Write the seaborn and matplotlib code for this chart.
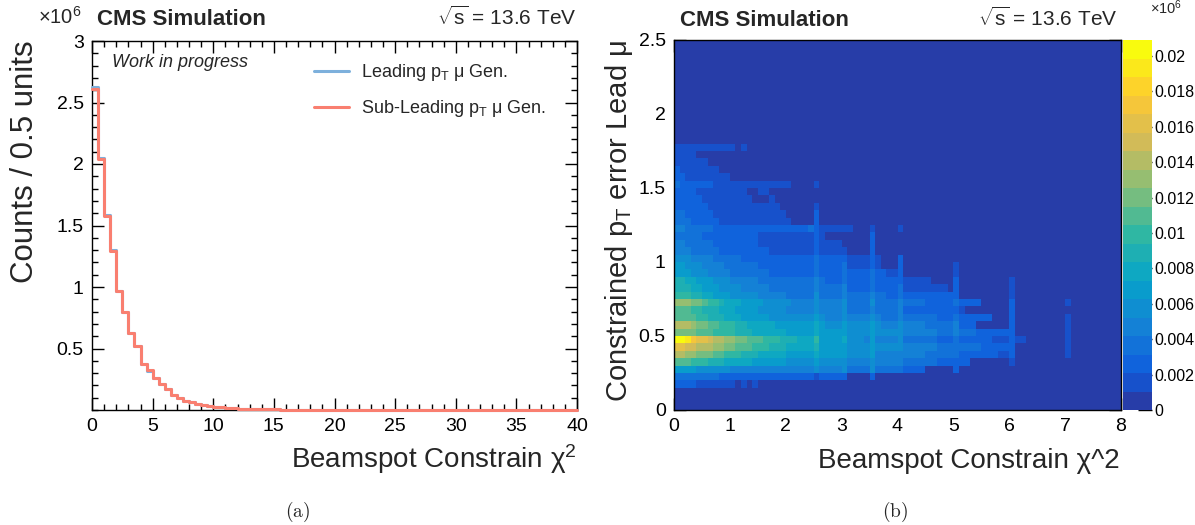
import numpy as np
import pandas as pd
import matplotlib
matplotlib.use("Agg")
import matplotlib.pyplot as plt
from matplotlib.colors import ListedColormap, LinearSegmentedColormap
from matplotlib.lines import Line2D
from matplotlib.ticker import MultipleLocator, FixedLocator, FixedFormatter
import seaborn as sns

# ============================ DATA: panel (a) ============================
# Beamspot-constrain chi2 histogram, 0.5-wide bins from 0 to 40, counts in units of 1e6
chi2_bin_width = 0.5
chi2_range = (0.0, 40.0)
lead_counts = [
    2.63, 2.05, 1.585, 1.30, 0.965, 0.80, 0.625, 0.52, 0.37, 0.32,
    0.26, 0.21, 0.17, 0.125, 0.10, 0.075, 0.062, 0.050, 0.042, 0.034,
    0.028, 0.023, 0.019, 0.015, 0.012, 0.010, 0.0085, 0.0072, 0.0060, 0.0050,
    0.0042, 0.0036, 0.0031, 0.0027, 0.0023, 0.0020, 0.0018, 0.0016, 0.0014, 0.0012,
    0.0011, 0.0010, 0.0009, 0.0008, 0.0008, 0.0007, 0.0006, 0.0006, 0.0005, 0.0005,
    0.0004, 0.0004, 0.0004, 0.0003, 0.0003, 0.0003, 0.0003, 0.0002, 0.0002, 0.0002,
    0.0002, 0.0002, 0.0002, 0.0001, 0.0001, 0.0001, 0.0001, 0.0001, 0.0001, 0.0001,
    0.0001, 0.0001, 0.0001, 0.0001, 0.0001, 0.0001, 0.0001, 0.0001, 0.0001, 0.0001,
]
sublead_counts = [
    2.61, 2.04, 1.58, 1.29, 0.97, 0.80, 0.63, 0.52, 0.375, 0.325,
    0.26, 0.21, 0.17, 0.125, 0.10, 0.075, 0.062, 0.050, 0.042, 0.034,
    0.028, 0.023, 0.019, 0.015, 0.012, 0.010, 0.0085, 0.0072, 0.0060, 0.0050,
    0.0042, 0.0036, 0.0031, 0.0027, 0.0023, 0.0020, 0.0018, 0.0016, 0.0014, 0.0012,
    0.0011, 0.0010, 0.0009, 0.0008, 0.0008, 0.0007, 0.0006, 0.0006, 0.0005, 0.0005,
    0.0004, 0.0004, 0.0004, 0.0003, 0.0003, 0.0003, 0.0003, 0.0002, 0.0002, 0.0002,
    0.0002, 0.0002, 0.0002, 0.0001, 0.0001, 0.0001, 0.0001, 0.0001, 0.0001, 0.0001,
    0.0001, 0.0001, 0.0001, 0.0001, 0.0001, 0.0001, 0.0001, 0.0001, 0.0001, 0.0001,
]
series_labels = [r"Leading p$_{\mathrm{T}}$ μ Gen.", r"Sub-Leading p$_{\mathrm{T}}$ μ Gen."]
histo_y_ticks = [0.5, 1.0, 1.5, 2.0, 2.5, 3.0]
histo_y_ticklabels = ["0.5", "1", "1.5", "2", "2.5", "3"]

# ============================ DATA: panel (b) ============================
# 2D histogram: chi2 (0..8, 0.1 wide columns) vs constrained pT error (0..2.5, 0.05 tall rows)
heat_x_bin = 0.1
heat_y_bin = 0.05
heat_nx = 80
heat_ny = 50
heat_top_row_low_edge = 1.75   # lower y edge of the first string below
# contour band read for each cell (0..j = band 0..19), top row first, columns from chi2 = 0
level_codes = "0123456789abcdefghij"
heat_rows = [
    "1111111111101",                                                             # 1.75
    "1111",                                                                      # 1.70
    "111111",                                                                    # 1.65
    "21111111",                                                                  # 1.60
    "2211111111",                                                                # 1.55
    "32222221111111111111100001",                                                # 1.50
    "22221111111110011",                                                         # 1.45
    "222221111111110001",                                                        # 1.40
    "22222211111111111110000001",                                                # 1.35
    "33222221111111111111000002",                                                # 1.30
    "33322222111111111111100002",                                                # 1.25
    "44333332222222222222222232111111000100001",                                 # 1.20
    "333332222222222111111111121000000002",                                      # 1.15
    "443333322222222111111111121111000002",                                      # 1.10
    "444333332222222221111111121111100002",                                      # 1.05
    "55544443333322222222222223222221111210002",                                 # 1.00
    "6655544443" "3333322222" "2222232222" "3111121" "000" "2" "000000000" "1",  # 0.95
    "6665554444" "3333333222" "2222232222" "3222232211" "2" "000000000" "1",     # 0.90
    "8877666555" "4444433333" "3333343222" "3222232222" "211111" "0000" "2"
    "000000000" "1",                                                             # 0.85
    "8887766655" "5544444333" "3333343333" "4222232222" "3111111110" "2"
    "000000000" "1",                                                             # 0.80
    "9998877666" "5555544444" "3333353333" "4333343322" "3222222222" "2"
    "000000000" "1",                                                             # 0.75
    "cccbba9987" "7766665555" "5444454444" "5333353333" "4333322222" "32222"
    "00000" "2" "000000000" "1",                                                 # 0.70
    "aaa9988877" "7666655555" "4444454444" "5333343333" "4222222222" "21"
    "00000000" "2",                                                              # 0.65
    "aaaa998887" "7766666555" "5555565444" "5444454333" "4333333222" "3222222"
    "000" "2" "000000000" "1",                                                   # 0.60
    "dddcbbaa99" "9887777766" "6666676555" "6555565444" "5444433333" "4222"
    "000000" "2" "000000000" "1",                                                # 0.55
    "bbbbaaa999" "9888777777" "6666676666" "6555565555" "5444444333" "4333222222"
    "2" "000000000" "1",                                                         # 0.50
    "jjigffeddc" "cbbaaa9998" "8877796666" "7555464444" "5333333222" "3222222111"
    "2110000000" "1",                                                            # 0.45
    "ffeedddccb" "baaa999888" "7777786666" "6555565555" "5444444333" "3333322222"
    "2" "000000000" "1",                                                         # 0.40
    "ddccbbbaa9" "9988877777" "6666676666" "6555564444" "4444433333" "3222222211"
    "2" "000000000" "1",                                                         # 0.35
    "aaa9998887" "7777666666" "5555565555" "5444454444" "4333333222" "222"
    "0000000" "1",                                                               # 0.30
    "6666555555" "4444444444" "4444454444" "5333353333" "32222" "00000" "2",     # 0.25
    "3333333322" "2222222222" "2222212222" "2" "0000" "2",                       # 0.20
    "2222111111" "1" "0" "1" "0" "1",                                            # 0.15
]
z_max = 0.0209          # colour-scale maximum (x1e6 counts)
n_bands = 20
cbar_ticks = [0.0, 0.002, 0.004, 0.006, 0.008, 0.010, 0.012, 0.014, 0.016, 0.018, 0.020]
cbar_ticklabels = ["0", "0.002", "0.004", "0.006", "0.008", "0.01", "0.012", "0.014",
                   "0.016", "0.018", "0.02"]
heat_x_ticklabels = ["0", "1", "2", "3", "4", "5", "6", "7", "8"]
heat_y_ticklabels = ["0", "0.5", "1", "1.5", "2", "2.5"]

# ============================ STYLE ============================
sns.set_style("ticks")
plt.rcParams.update({
    "font.family": ["Liberation Sans", "DejaVu Sans"],
    "mathtext.fontset": "custom",
    "mathtext.rm": "Liberation Sans",
    "mathtext.it": "Liberation Sans:italic",
    "mathtext.bf": "Liberation Sans:bold",
    "axes.edgecolor": "black",
    "axes.linewidth": 1.0,
    "xtick.color": "black",
    "ytick.color": "black",
})
BLUE = "#7db0dc"
RED = "#f97f70"

# ROOT kBird palette stops
bird_stops = [0.0, 0.125, 0.25, 0.375, 0.5, 0.625, 0.75, 0.875, 1.0]
bird_r = [0.2082, 0.0592, 0.0780, 0.0232, 0.1802, 0.5301, 0.8186, 0.9956, 0.9764]
bird_g = [0.1664, 0.3599, 0.5041, 0.6419, 0.7178, 0.7492, 0.7328, 0.7862, 0.9832]
bird_b = [0.5293, 0.8684, 0.8385, 0.7914, 0.6425, 0.4662, 0.3499, 0.1968, 0.0539]
bird = LinearSegmentedColormap.from_list(
    "bird", list(zip(bird_stops, zip(bird_r, bird_g, bird_b))))
band_cmap = ListedColormap([bird((i + 1) / n_bands) for i in range(n_bands)])

W, H = 1195, 525
fig = plt.figure(figsize=(W / 100, H / 100), dpi=100)


def fx(px):
    return px / W


def fy(py):
    return 1 - py / H


TICK_LABEL_SIZE = 14
TITLE_SIZE = 20

# ============================ PANEL (a) ============================
axL = fig.add_axes([fx(92), fy(410), fx(577) - fx(92), fy(41) - fy(410)])
n_bins = len(sublead_counts)
centers = [chi2_range[0] + (i + 0.5) * chi2_bin_width for i in range(n_bins)]
histo_df = pd.DataFrame({"chi2": centers, "lead": lead_counts, "sublead": sublead_counts})
sns.histplot(data=histo_df, x="chi2", weights="lead", binwidth=chi2_bin_width,
             binrange=chi2_range, element="step", fill=False, color=BLUE,
             linewidth=2.2, zorder=3, clip_on=False, ax=axL)
sns.histplot(data=histo_df, x="chi2", weights="sublead", binwidth=chi2_bin_width,
             binrange=chi2_range, element="step", fill=False, color=RED,
             linewidth=2.2, zorder=3.1, clip_on=False, ax=axL)
axL.set_xlim(*chi2_range)
axL.set_ylim(0, 3)
axL.set_xlabel("")
axL.set_ylabel("")
axL.xaxis.set_major_locator(MultipleLocator(5))
axL.xaxis.set_minor_locator(MultipleLocator(1))
axL.yaxis.set_major_locator(FixedLocator(histo_y_ticks))
axL.yaxis.set_major_formatter(FixedFormatter(histo_y_ticklabels))
axL.yaxis.set_minor_locator(MultipleLocator(0.1))
axL.tick_params(which="both", direction="in", top=True, right=True, width=1,
                labelsize=TICK_LABEL_SIZE)
axL.tick_params(which="major", length=8.5, pad=6)
axL.tick_params(which="minor", length=4.3)
for s in axL.spines.values():
    s.set_visible(True)
    s.set_linewidth(1.0)

handles = [Line2D([], [], color=BLUE, lw=2.2), Line2D([], [], color=RED, lw=2.2)]
fig.legend(handles, series_labels, loc="upper left",
           bbox_to_anchor=(fx(314), fy(62)), bbox_transform=fig.transFigure,
           frameon=False, fontsize=13, handlelength=1.95, handletextpad=0.65,
           labelspacing=0.85, borderpad=0, borderaxespad=0)

fig.text(fx(82), fy(24), r"$\times10^{6}$", fontsize=14.5, ha="right", va="baseline")
fig.text(fx(97), fy(25), "CMS Simulation", fontsize=16, fontweight="bold",
         ha="left", va="baseline")
fig.text(fx(577), fy(25), r"$\sqrt{\mathrm{s}}$ = 13.6 TeV", fontsize=15,
         ha="right", va="baseline")
fig.text(fx(112), fy(67), "Work in progress", fontsize=13, style="italic",
         ha="left", va="baseline")
fig.text(fx(577), fy(468), r"Beamspot Constrain χ$^{2}$", fontsize=TITLE_SIZE,
         ha="right", va="baseline")
fig.text(fx(25), fy(40), "Counts / 0.5 units", fontsize=22.5, rotation=90,
         ha="center", va="top")

# ============================ PANEL (b) ============================
heat = np.zeros((heat_ny, heat_nx))
top_row = int(round(heat_top_row_low_edge / heat_y_bin))
for k, row in enumerate(heat_rows):
    r = top_row - k
    for c, ch in enumerate(row):
        heat[r, c] = (level_codes.index(ch) + 0.5) * z_max / n_bands

axR = fig.add_axes([fx(674), fy(410), fx(1121) - fx(674), fy(40) - fy(410)])
cax = fig.add_axes([fx(1123), fy(410), fx(1152) - fx(1123), fy(40) - fy(410)])
sns.heatmap(heat, ax=axR, cbar_ax=cax, cmap=band_cmap, vmin=0, vmax=z_max,
            xticklabels=False, yticklabels=False, cbar_kws={"ticks": cbar_ticks})
axR.set_xlim(0, heat_nx)
axR.set_ylim(0, heat_ny)
for s in axR.spines.values():
    s.set_visible(True)
    s.set_color("black")
    s.set_linewidth(1.0)
axR.set_xticks(np.arange(0, heat_nx + 1, round(1 / heat_x_bin)))
axR.set_xticklabels(heat_x_ticklabels, rotation=0)
axR.xaxis.set_minor_locator(MultipleLocator(0.2 / heat_x_bin))
axR.set_yticks(np.arange(0, heat_ny + 1, round(0.5 / heat_y_bin)))
axR.set_yticklabels(heat_y_ticklabels, rotation=0)
axR.yaxis.set_minor_locator(MultipleLocator(0.1 / heat_y_bin))
axR.tick_params(which="both", direction="in", top=True, right=True, bottom=True,
                left=True, width=1, labelsize=TICK_LABEL_SIZE, color="black")
axR.tick_params(which="major", length=8.5, pad=6)
axR.tick_params(which="minor", length=4.3)
axR.set_xlabel("")
axR.set_ylabel("")

cbar = axR.collections[0].colorbar
cbar.outline.set_visible(False)
cbar.set_ticks(cbar_ticks)
cbar.set_ticklabels(cbar_ticklabels)
cax.tick_params(direction="in", length=10, width=1, labelsize=11.5, pad=2,
                right=True, left=False, color="black")

fig.text(fx(1150), fy(14), r"$\times10^{6}$", fontsize=10.5, ha="left", va="baseline")
fig.text(fx(680), fy(26), "CMS Simulation", fontsize=16, fontweight="bold",
         ha="left", va="baseline")
fig.text(fx(1118), fy(26), r"$\sqrt{\mathrm{s}}$ = 13.6 TeV", fontsize=15,
         ha="right", va="baseline")
fig.text(fx(1120), fy(468), "Beamspot Constrain χ^2", fontsize=TITLE_SIZE,
         ha="right", va="baseline")
fig.text(fx(619), fy(40), r"Constrained p$_{\mathrm{T}}$ error Lead μ",
         fontsize=21, rotation=90, ha="center", va="top")

# ============================ captions ============================
fig.text(fx(298), fy(512), r"$\mathrm{(a)}$", math_fontfamily="cm", fontsize=14,
         ha="center", va="center")
fig.text(fx(895), fy(512), r"$\mathrm{(b)}$", math_fontfamily="cm", fontsize=14,
         ha="center", va="center")

fig.savefig("out.png", dpi=100)
